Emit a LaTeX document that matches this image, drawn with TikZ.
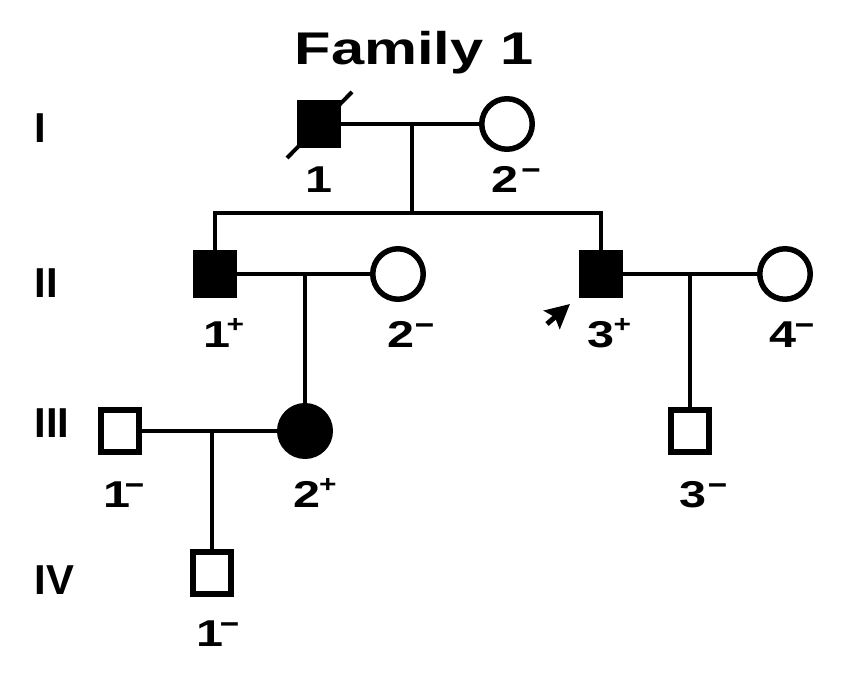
\documentclass[tikz,border=0pt]{standalone}
\usepackage{fontspec}
\setmainfont{Liberation Sans}
\newfontfamily\widefont[FakeStretch=1.3]{Liberation Sans}
\usetikzlibrary{arrows.meta}

\newcommand{\plusmark}[1][0bp]{\rlap{\hspace{#1}\raisebox{15.6bp}{\scalebox{1}[0.8]{\normalfont\bfseries\fontsize{30}{30}\selectfont +}}}}
\newcommand{\minusmark}[1][0bp]{\rlap{\hspace{#1}\raisebox{13.3bp}{\normalfont\bfseries\fontsize{34}{34}\selectfont –}}}

\begin{document}
\begin{tikzpicture}[>=latex,line join=miter,
  male/.style={draw,rectangle,minimum width=38bp,minimum height=42bp,line width=6bp,inner sep=0pt},
  female/.style={draw,circle,minimum size=50.5bp,line width=5.5bp,inner sep=0pt},
  affected/.style={fill=black},
  line/.style={black,line width=4bp},
  idlabel/.style={anchor=base,inner sep=0pt,font=\widefont\bfseries\fontsize{37.5}{37.5}\selectfont},
  genlabel/.style={anchor=base west,inner sep=0pt,font=\bfseries\fontsize{42}{42}\selectfont}]
\useasboundingbox (0bp,0bp) rectangle (855bp,700bp);
%%
\node (title) at (414bp,635bp) [anchor=base,inner sep=0pt,font=\widefont\bfseries\fontsize{46}{46}\selectfont] {Family 1};
  \node (gen_I) at (34.3bp,557bp) [genlabel] {I};
  \node (gen_II) at (34.3bp,402bp) [genlabel] {II};
  \node (gen_III) at (34.3bp,262bp) [genlabel] {III};
  \node (gen_IV) at (34.3bp,105bp) [genlabel] {IV};
%% generation I
\node (node_I1) at (319bp,576bp) [male,affected] {};
  \node (node_I2) at (507bp,576bp) [female] {};
  \coordinate (mate_I) at (412bp,576bp);
  \coordinate (sib_I) at (412bp,487bp);
%% generation II
\node (node_II1) at (215bp,426bp) [male,affected] {};
  \node (node_II2) at (398bp,426bp) [female] {};
  \node (node_II3) at (601bp,426bp) [male,affected] {};
  \node (node_II4) at (785bp,426bp) [female] {};
  \coordinate (mate_II1) at (305bp,426bp);
  \coordinate (mate_II3) at (690bp,426bp);
  \coordinate (proband) at (547bp,376bp);
%% generation III
\node (node_III1) at (120bp,269bp) [male] {};
  \node (node_III2) at (305bp,269bp) [female,affected] {};
  \node (node_III3) at (690bp,269bp) [male] {};
  \coordinate (mate_III1) at (212bp,269bp);
%% generation IV
\node (node_IV1) at (212bp,127bp) [male] {};
%% labels
\node (lbl_I1) at (319bp,507bp) [idlabel] {1};
  \node (lbl_I2) at (505bp,507bp) [idlabel] {2\minusmark[3bp]};
  \node (lbl_II1) at (217bp,352bp) [idlabel] {1\plusmark[-4bp]};
  \node (lbl_II2) at (401bp,352bp) [idlabel] {2\minusmark[0.5bp]};
  \node (lbl_II3) at (601bp,352bp) [idlabel] {3\plusmark[-1bp]};
  \node (lbl_II4) at (782.5bp,352bp) [idlabel] {4\minusmark[-1bp]};
  \node (lbl_III1) at (117.5bp,192bp) [idlabel] {1\minusmark[-6bp]};
  \node (lbl_III2) at (307.5bp,192bp) [idlabel] {2\plusmark[-2bp]};
  \node (lbl_III3) at (693bp,192bp) [idlabel] {3\minusmark[1.5bp]};
  \node (lbl_IV1) at (210.5bp,53bp) [idlabel] {1\minusmark[-4bp]};
%% connectors
\draw [line] (node_I1) -- (node_I2);
  \draw [line] (mate_I) -- (sib_I);
  \draw [line] (node_II1) |- (sib_I) -| (node_II3);
  \draw [line] (node_II1) -- (node_II2);
  \draw [line] (mate_II1) -- (node_III2);
  \draw [line] (node_II3) -- (node_II4);
  \draw [line] (mate_II3) -- (node_III3);
  \draw [line] (node_III1) -- (node_III2);
  \draw [line] (mate_III1) -- (node_IV1);
%% deceased mark and proband arrow
\draw [line] (node_I1.center) +(-32bp,-34bp) -- +(33bp,32bp);
  \draw [line,line width=5bp,-{Stealth[length=24bp,width=24bp,inset=4bp]}] (proband) -- ([xshift=-9bp,yshift=-6bp]node_II3.south west);
%
\end{tikzpicture}
\end{document}
